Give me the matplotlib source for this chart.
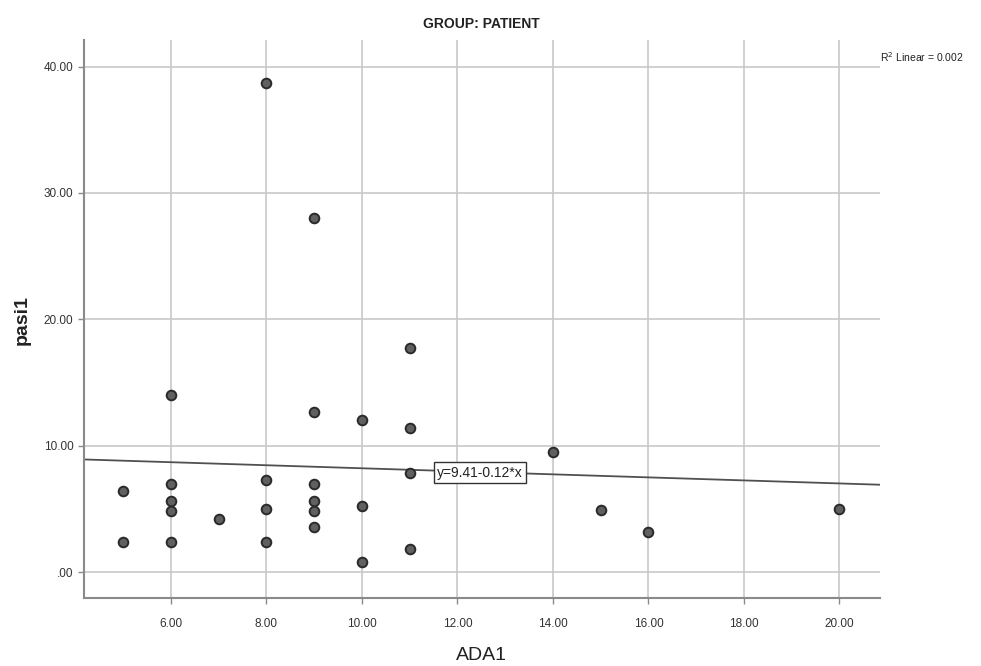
import matplotlib
matplotlib.use("Agg")
from matplotlib import pyplot as plt
import numpy as np

plt.rcParams['font.family'] = ['Liberation Sans Narrow', 'Liberation Sans', 'DejaVu Sans']

# data
ada1 = [5, 5,
        6, 6, 6, 6, 6,
        7,
        8, 8, 8, 8,
        9, 9, 9, 9, 9, 9,
        10, 10, 10,
        11, 11, 11, 11,
        14, 15, 16, 20]
pasi1 = [6.4, 2.4,
         14.0, 7.0, 5.6, 4.8, 2.4,
         4.2,
         38.7, 7.3, 5.0, 2.4,
         28.0, 12.7, 7.0, 5.6, 4.8, 3.6,
         12.0, 5.2, 0.8,
         17.7, 11.4, 7.8, 1.8,
         9.5, 4.9, 3.2, 5.0]
intercept = 9.41
slope = -0.12
x_ticks = [6, 8, 10, 12, 14, 16, 18, 20]
y_ticks = [0, 10, 20, 30, 40]

fig = plt.figure(figsize=(9.81, 6.66), dpi=100)
ax = fig.add_axes([0.0856, 0.102, 0.811, 0.838])
ax.set_xlim(4.18, 20.84)
ax.set_ylim(-2.06, 42.1)

ax.set_xticks(x_ticks)
ax.set_yticks(y_ticks)
ax.set_xticklabels(['%.2f' % v for v in x_ticks])
ax.set_yticklabels(['.00' if v == 0 else '%.2f' % v for v in y_ticks])
ax.grid(True, color='#c8c8c8', lw=1.2)
ax.set_axisbelow(True)

for s in ['top', 'right']:
    ax.spines[s].set_visible(False)
for s in ['left', 'bottom']:
    ax.spines[s].set_color('#8a8a8a')
    ax.spines[s].set_linewidth(1.5)
ax.tick_params(axis='both', colors='#8a8a8a', labelcolor='#333333',
               labelsize=8.5, length=4, width=1)
ax.tick_params(axis='x', pad=10)

xs = np.array(ax.get_xlim())
ax.plot(xs, intercept + slope * xs, color='#505050', lw=1.3, zorder=2)

ax.scatter(ada1, pasi1, s=48, c='#606060', edgecolors='#2a2a2a',
           linewidths=1.4, zorder=3)

ax.text(12.47, 7.86, 'y=9.41-0.12*x', fontsize=10, ha='center', va='center',
        color='#222222', zorder=4,
        bbox=dict(boxstyle='square,pad=0.25', fc='white', ec='#333333', lw=1))

ax.text(1.0, 0.97, 'R$^2$ Linear = 0.002', transform=ax.transAxes,
        fontsize=7.5, ha='left', va='center', color='#222222')

fig.text(0.491, 0.964, 'GROUP: PATIENT', fontsize=10, fontweight='bold',
         ha='center', va='center', color='#222222')
fig.text(0.491, 0.016, 'ADA1', fontsize=14, color='#222222',
         family=['Liberation Sans', 'DejaVu Sans'], ha='center', va='center')
fig.text(0.023, 0.52, 'pasi1', fontsize=14, fontweight='bold', color='#222222',
         family=['Liberation Sans', 'DejaVu Sans'], ha='center', va='center',
         rotation=90)

fig.savefig('out.png', dpi=100)
